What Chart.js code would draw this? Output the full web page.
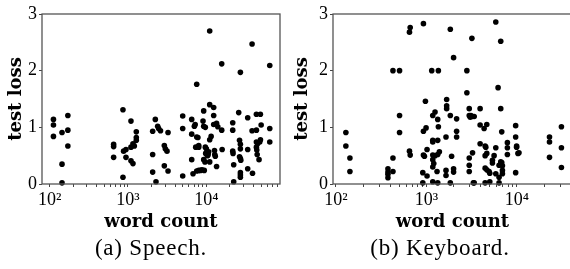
<!DOCTYPE html>
<html>
<head>
<meta charset="utf-8">
<script src="https://cdn.jsdelivr.net/npm/chart.js@4"></script>
<style>
  html, body { margin: 0; padding: 0; background: #fff; }
  body { width: 570px; height: 269px; position: relative; overflow: hidden; }
  .panel { position: absolute; top: 0; width: 290px; height: 240px; }
  .caption {
    position: absolute; top: 235px; width: 200px; text-align: center;
    font-family: 'Liberation Serif', serif; font-size: 23px; letter-spacing: 0.8px; color: #000;
  }
</style>
</head>
<body>
<div class="panel" style="left:0"><canvas id="speech"></canvas></div>
<div class="panel" style="left:285px"><canvas id="keyboard"></canvas></div>
<div class="caption" style="left:51px">(a) Speech.</div>
<div class="caption" style="left:340px">(b) Keyboard.</div>
<script>
// (a) Speech: word count vs test loss
const speechWordCount = [
  112, 112, 112, 144, 144, 144, 171, 171, 171,
  656, 656, 656, 863, 863, 880, 943, 943, 1092, 1092, 1092, 1158, 1158, 1205, 1277, 1277, 1277,
  2065, 2065, 2065, 2233, 2277, 2392, 2461, 2600, 2909, 2997, 3148, 2909, 3244, 3244,
  4992, 4992, 4992, 6504, 6504, 6504, 6762, 7031, 7200, 7311, 7533, 7533, 7800, 7533, 7986, 8383, 8800, 9400,
  7986, 7986, 9065, 9247, 9247, 9700, 9247, 9600, 9700, 10000, 10200, 9800, 10300, 10500, 10700, 10500,
  11030, 11030, 11030, 11030, 11500, 12400, 12400, 12400, 12700, 12800, 13000, 13500, 14000, 13500, 15700, 15700, 15900,
  21700, 21700, 21700, 21900, 22330, 22330, 25870, 27170, 26500, 27170, 27170, 26500, 27170, 27500, 27170, 27170, 27170,
  33700, 33700, 33700, 38300, 38300, 38800, 43500, 48900, 43500, 43500, 45000, 48000, 49000, 43500, 44000, 44500, 47000, 50000,
  64400, 64400, 64400
];
const speechTestLoss = [
  1.14, 1.04, 0.84, 0.91, 0.35, 0.02, 1.21, 0.95, 0.67,
  0.70, 0.66, 0.47, 1.31, 0.12, 0.58, 0.61, 0.47, 1.11, 0.65, 0.41, 0.36, 0.71, 0.67, 0.77, 0.82, 0.92,
  0.93, 0.52, 0.21, 1.14, 0.04, 1.02, 0.98, 0.94, 0.68, 0.62, 0.58, 0.32, 0.23, 0.91,
  1.20, 0.98, 0.14, 1.14, 0.88, 0.43, 0.18, 1.02, 1.05, 0.65, 1.76, 0.83, 0.82, 0.23, 0.24, 0.24, 0.25, 0.24,
  0.68, 0.65, 1.11, 1.29, 1.02, 1.00, 0.43, 0.39, 0.65, 0.62, 0.56, 0.54, 0.50, 0.54, 0.57, 0.51,
  2.70, 1.40, 0.39, 0.78, 0.84, 1.35, 1.21, 1.05, 0.59, 0.52, 0.49, 1.07, 1.01, 0.31, 2.12, 0.95, 0.61,
  1.08, 0.95, 0.58, 0.54, 0.34, 0.04, 1.26, 1.97, 0.77, 0.70, 0.62, 0.48, 0.45, 0.42, 0.20, 0.16, 0.12,
  1.17, 0.61, 0.27, 2.47, 0.94, 0.19, 1.23, 1.23, 0.95, 0.74, 0.71, 0.74, 0.78, 0.65, 0.60, 0.52, 0.43, 1.04,
  2.09, 0.98, 0.74
];

// (b) Keyboard: word count vs test loss
const keyboardWordCount = [
  129, 129, 143, 143,
  376, 376, 376, 376, 427, 427, 427, 505, 505, 505,
  650, 662, 650, 662,
  927, 927, 912, 912, 927, 951, 975, 991, 1016, 1016,
  1145, 1355, 1175, 1245, 1175, 1175, 1175, 1175, 1175, 1175, 1333, 1355, 1333, 1333, 1390, 1310, 1333, 1205, 1245,
  1645, 1673, 1673, 1673, 1645, 1645, 1836, 1836, 1836, 1897, 1995, 1995, 1995, 2155, 2155, 2155,
  2797, 2797, 2970, 2970, 3047, 3100, 3230, 3368, 2970, 2970, 2970, 3230, 3178, 3300, 3368,
  3917, 3917, 3917, 4335, 4450, 4525, 4450, 4641, 4450, 4641, 4450, 4641, 4921, 5008, 5008,
  5588, 5355, 5355, 5834, 5834, 5834, 6342, 6342, 6617, 6617, 6183, 6617, 6617, 6786, 6786, 6904, 6904, 6904, 6342,
  7834, 7834, 7834,
  9669, 9669, 9905, 9905, 10250, 10520, 9669,
  22860, 22860, 22860,
  30950, 30950, 30950
];
const keyboardTestLoss = [
  0.91, 0.67, 0.46, 0.22,
  0.27, 0.21, 0.17, 0.11, 2.00, 0.46, 0.22, 2.00, 1.21, 0.91,
  2.68, 2.76, 0.58, 0.51,
  2.83, 0.93, 0.20, 0.02, 0.51, 0.49, 1.46, 0.99, 0.61, 0.14,
  2.00, 2.00, 1.21, 1.27, 0.77, 0.74, 0.51, 0.43, 0.30, 0.04, 1.14, 1.01, 0.77, 0.52, 0.57, 0.22, 0.02, 0.36, 0.50,
  0.83, 1.38, 1.33, 1.49, 0.24, 0.15, 2.73, 1.21, 0.02, 0.49, 2.23, 0.27, 0.21, 1.15, 0.93, 0.83,
  2.00, 1.61, 1.33, 1.21, 1.18, 1.21, 1.19, 1.19, 0.46, 0.33, 0.22, 0.55, 2.57, 0.02, 0.02,
  1.33, 1.04, 0.71, 0.98, 0.67, 0.65, 0.50, 0.54, 0.28, 0.25, 0.02, 1.05, 0.22, 0.19, 0.04,
  0.50, 0.42, 0.37, 0.64, 2.86, 0.18, 0.12, 0.33, 0.36, 0.39, 1.70, 2.52, 1.33, 0.92, 0.38, 0.32, 0.24, 0.18, 0.02,
  0.73, 0.64, 0.52,
  1.03, 0.83, 0.67, 0.65, 0.54, 0.55, 0.20,
  0.83, 0.74, 0.47,
  1.01, 0.64, 0.29
];

const lossTicks = [0, 1, 2, 3];
const wordTicks = [
  100, 200, 300, 400, 500, 600, 700, 800, 900,
  1000, 2000, 3000, 4000, 5000, 6000, 7000, 8000, 9000,
  10000, 20000, 30000, 40000, 50000, 60000, 70000, 80000
];
const wordTickLabels = { 100: '10\u00b2', 1000: '10\u00b3', 10000: '10\u2074' };

const serif = "'Liberation Serif', 'DejaVu Serif', serif";
const titleFont = { family: "'DejaVu Serif', serif", size: 18, weight: 'bold' };

// box around the plot area
const frame = {
  id: 'frame',
  afterDraw(chart) {
    const { ctx, chartArea: a } = chart;
    ctx.save();
    ctx.strokeStyle = '#555';
    ctx.lineWidth = 1.3;
    ctx.strokeRect(a.left, a.top, a.right - a.left, a.bottom - a.top);
    ctx.restore();
  }
};

function makeChart(id, words, loss, xMin, xMax, yWidth, pad) {
  const canvas = document.getElementById(id);
  canvas.width = 290;
  canvas.height = 240;

  const points = words.map((w, i) => ({ x: w, y: loss[i] }));
  return new Chart(canvas, {
    type: 'scatter',
    data: {
      datasets: [{
        data: points,
        backgroundColor: '#000',
        borderWidth: 0,
        pointRadius: 2.8,
        pointHoverRadius: 2.8,
        clip: false
      }]
    },
    options: {
      responsive: false,
      animation: false,
      events: [],
      layout: { padding: { top: 14, right: pad.right, left: 0, bottom: 0 } },
      plugins: { legend: { display: false }, tooltip: { enabled: false } },
      scales: {
        x: {
          type: 'logarithmic',
          min: xMin,
          max: xMax,
          afterFit: s => { s.height = 56; },
          afterBuildTicks: s => {
            s.ticks = wordTicks.filter(v => v >= xMin && v <= xMax).map(v => ({ value: v }));
          },
          border: { display: false },
          grid: { drawOnChartArea: false, tickLength: 3, color: '#444', lineWidth: 1 },
          ticks: {
            autoSkip: false,
            maxRotation: 0,
            minRotation: 0,
            padding: 2,
            color: '#000',
            font: { family: serif, size: 18 },
            callback: v => wordTickLabels[v] || ''
          },
          title: { display: true, text: 'word count', color: '#000', font: titleFont, padding: { top: 0, bottom: 7 } }
        },
        y: {
          min: 0,
          max: 3,
          afterFit: s => { s.width = yWidth; },
          afterBuildTicks: s => { s.ticks = lossTicks.map(v => ({ value: v })); },
          border: { display: false },
          grid: { drawOnChartArea: false, tickLength: 3, color: '#444' },
          ticks: {
            padding: 2,
            color: '#000',
            font: { family: serif, size: 18 },
            callback: v => String(v)
          },
          title: { display: true, text: 'test loss', color: '#000', font: titleFont, padding: { top: pad.title, bottom: 0 } }
        }
      }
    },
    plugins: [frame]
  });
}

makeChart('speech', speechWordCount, speechTestLoss, 80, 87000, 42, { right: 10, title: 6 });
makeChart('keyboard', keyboardWordCount, keyboardTestLoss, 93, 40500, 48, { right: 3, title: 7 });
</script>
</body>
</html>
